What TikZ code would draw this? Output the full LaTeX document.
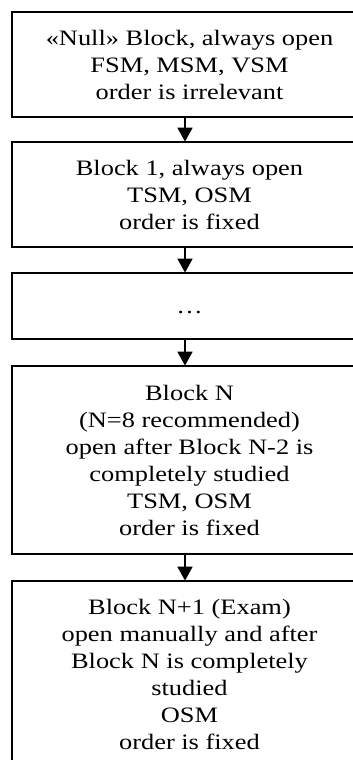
\documentclass[tikz,border=0pt]{standalone}
\usepackage{fontspec}
\setmainfont{Liberation Serif}[FakeStretch=1.2]
\usetikzlibrary{arrows.meta}
\begin{document}
\begin{tikzpicture}[x=1pt,y=-1pt,
  blk/.style={draw, line width=1.8pt, minimum width=355pt, inner sep=0pt, align=center,
    font=\fontsize{22}{27}\selectfont},
  arr/.style={line width=1.8pt, -{Triangle[width=15pt,length=14pt]}, shorten >=-0.5pt}]
\useasboundingbox (0,0) rectangle (353,760);
\clip (0,0) rectangle (353,760);
\fill[white] (0,0) rectangle (353,760);
\coordinate (ax) at (185,0);
\node[blk, minimum height=105pt] (b1) at (189.5,64.5)
  {«Null» Block, always open\\FSM, MSM, VSM\\order is irrelevant};
\node[blk, minimum height=105pt] (b2) at (189.5,194.5)
  {Block 1, always open\\TSM, OSM\\order is fixed};
\node[blk, minimum height=66pt] (b3) at (189.5,306)
  {\rule{0pt}{15pt}\dots};
\node[blk, minimum height=188pt] (b4) at (189.5,460)
  {Block N\\(N=8 recommended)\\open after Block N-2 is\\completely studied\\TSM, OSM\\order is fixed};
\node[blk, minimum height=186.5pt] (b5) at (189.5,674.25)
  {Block N+1 (Exam)\\open manually and after\\Block N is completely\\studied\\OSM\\order is fixed};
\draw[arr] (b1.south -| ax) -- (b2.north -| ax);
\draw[arr] (b2.south -| ax) -- (b3.north -| ax);
\draw[arr] (b3.south -| ax) -- (b4.north -| ax);
\draw[arr] (b4.south -| ax) -- (b5.north -| ax);
\end{tikzpicture}
\end{document}
